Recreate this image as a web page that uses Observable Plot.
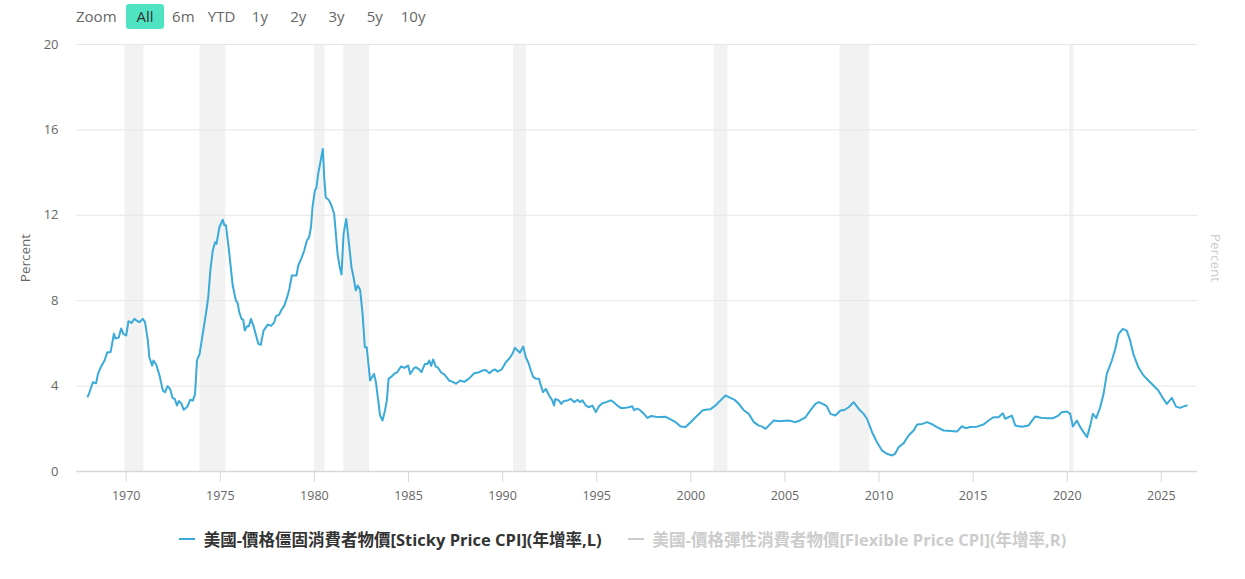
<!DOCTYPE html>
<html>
<head>
<meta charset="utf-8">
<script src="https://cdn.jsdelivr.net/npm/d3@7"></script>
<script src="https://cdn.jsdelivr.net/npm/@observablehq/plot@0.6"></script>
<style>
  html, body { margin: 0; padding: 0; background: #fff; }
  body { width: 1245px; height: 579px; position: relative; overflow: hidden;
         font-family: "Open Sans", "Noto Sans CJK TC", sans-serif; }
  #zoombar { position: relative; height: 32px; }
  #zoombar span { position: absolute; top: 4px; height: 25px; line-height: 25px;
                  font-size: 15px; color: #666; text-align: center; }
  #zoombar .zl { left: 76px; width: auto; }
  #zoombar .btn { width: 38px; border-radius: 3px; }
  #zoombar .sel { background: #50e3c2; color: #333; }
  #chart { height: 489px; }
  #legend { display: flex; justify-content: center; gap: 26px; height: 36px; align-items: center;
            font-size: 16.5px; font-weight: bold; font-family: "Open Sans", "Noto Sans CJK TC", sans-serif; }
  #legend .item { display: flex; align-items: center; }
  #legend .sym { display: inline-block; width: 16px; height: 2px; margin-right: 9px; }
</style>
</head>
<body>
<div id="zoombar"></div>
<div id="chart"></div>
<div id="legend"></div>
<script>
// ---- data ----
const years = [
1967.96,1968.05,1968.23,1968.4,1968.5,1968.67,1968.85,1969.0,1969.17,1969.35,1969.43,1969.6,1969.73,1969.85,
1970.0,1970.12,1970.28,1970.44,1970.6,1970.72,1970.88,1971.0,1971.15,1971.23,1971.38,1971.45,1971.6,1971.77,1971.95,
1972.07,1972.2,1972.33,1972.47,1972.58,1972.7,1972.8,1972.92,1973.06,1973.25,1973.4,1973.55,1973.66,1973.76,1973.9,
1974.07,1974.24,1974.36,1974.47,1974.6,1974.72,1974.8,1974.95,1975.13,1975.22,1975.3,1975.48,1975.66,1975.83,1975.92,
1976.01,1976.13,1976.22,1976.3,1976.42,1976.52,1976.63,1976.77,1976.9,1977.02,1977.15,1977.3,1977.52,1977.7,1977.87,1977.96,
1978.13,1978.23,1978.4,1978.54,1978.67,1978.8,1978.95,1979.05,1979.14,1979.3,1979.46,1979.6,1979.72,1979.82,1979.9,
1980.03,1980.1,1980.2,1980.3,1980.45,1980.52,1980.6,1980.78,1980.9,1981.05,1981.14,1981.23,1981.33,1981.44,1981.55,1981.69,1981.84,1981.97,
1982.08,1982.2,1982.3,1982.43,1982.56,1982.68,1982.78,1982.96,1983.05,1983.17,1983.27,1983.39,1983.49,1983.62,1983.75,1983.85,1983.94,
1984.1,1984.24,1984.4,1984.6,1984.78,1984.98,1985.09,1985.3,1985.4,1985.55,1985.69,1985.87,1986.0,1986.1,1986.2,1986.31,1986.45,1986.58,1986.72,1986.9,1986.99,
1987.16,1987.35,1987.52,1987.75,1987.96,1988.2,1988.49,1988.75,1988.93,1989.1,1989.3,1989.46,1989.6,1989.72,1989.95,
1990.17,1990.35,1990.52,1990.66,1990.8,1990.92,1991.1,1991.23,1991.36,1991.5,1991.63,1991.78,1991.93,
1992.06,1992.15,1992.3,1992.47,1992.64,1992.73,1992.8,1992.98,1993.12,1993.25,1993.45,1993.62,1993.8,1993.98,
1994.1,1994.24,1994.42,1994.6,1994.77,1994.95,1995.12,1995.3,1995.5,1995.74,1995.9,1996.09,1996.27,1996.5,1996.7,1996.89,1996.98,
1997.15,1997.3,1997.51,1997.69,1997.9,1998.13,1998.4,1998.66,1998.9,1999.19,1999.46,1999.72,1999.99,
2000.25,2000.45,2000.61,2000.85,2001.05,2001.31,2001.58,2001.84,2002.1,2002.33,2002.55,2002.81,2003.08,2003.35,2003.61,2003.8,2003.97,
2004.23,2004.41,2004.75,2005.12,2005.35,2005.56,2005.8,2006.09,2006.35,2006.62,2006.8,2007.06,2007.22,2007.42,2007.68,2007.95,
2008.15,2008.39,2008.65,2008.92,2009.18,2009.36,2009.63,2009.89,2010.16,2010.42,2010.69,2010.85,2011.04,2011.31,2011.57,2011.84,
2012.02,2012.3,2012.55,2012.85,2013.08,2013.43,2013.8,2014.14,2014.4,2014.6,2014.85,2015.2,2015.55,2015.82,
2016.08,2016.35,2016.58,2016.7,2017.06,2017.24,2017.6,2017.94,2018.1,2018.3,2018.6,2018.92,2019.25,2019.53,2019.71,2019.98,
2020.16,2020.3,2020.51,2020.69,2020.87,2021.05,2021.22,2021.36,2021.54,2021.75,2021.93,2022.1,2022.37,2022.55,2022.73,2022.95,
2023.16,2023.34,2023.51,2023.78,2024.05,2024.31,2024.58,2024.84,2025.11,2025.29,2025.56,2025.78,2025.99,2026.15,2026.35
];
const sticky = [
3.51,3.71,4.18,4.13,4.57,4.92,5.2,5.59,5.59,6.45,6.23,6.27,6.7,6.45,
6.37,7.04,6.96,7.15,7.04,7.0,7.15,7.0,6.14,5.35,4.96,5.2,5.0,4.5,3.79,
3.72,4.0,3.87,3.44,3.4,3.09,3.3,3.2,2.89,3.04,3.36,3.33,3.64,5.2,5.5,
6.46,7.4,8.16,9.41,10.35,10.74,10.66,11.44,11.79,11.53,11.53,10.2,8.71,8.0,7.9,
7.46,7.15,7.1,6.6,6.8,6.8,7.15,6.8,6.37,5.98,5.93,6.6,6.88,6.82,7.0,7.28,
7.35,7.54,7.77,8.13,8.55,9.18,9.18,9.18,9.65,9.96,10.35,10.82,10.98,11.45,12.38,
13.19,13.25,13.94,14.4,15.11,13.79,12.85,12.7,12.47,12.07,11.13,10.2,9.64,9.23,11.13,11.83,10.66,9.57,
9.1,8.48,8.71,8.5,7.38,5.82,5.82,4.26,4.4,4.57,4.18,3.33,2.62,2.39,2.86,3.33,4.34,
4.45,4.57,4.65,4.92,4.85,4.96,4.57,4.85,4.88,4.8,4.65,5.04,5.04,5.2,4.95,5.25,4.91,4.85,4.65,4.55,4.45,
4.26,4.2,4.11,4.26,4.2,4.34,4.6,4.65,4.73,4.75,4.6,4.73,4.78,4.68,4.78,
5.12,5.28,5.51,5.79,5.67,5.56,5.85,5.35,5.12,4.73,4.42,4.34,4.34,
3.95,3.72,3.87,3.56,3.33,3.09,3.4,3.33,3.17,3.3,3.33,3.4,3.25,3.36,
3.25,3.33,3.09,3.01,3.09,2.78,3.06,3.2,3.25,3.33,3.25,3.09,2.98,2.98,3.01,3.06,2.87,
2.95,2.87,2.7,2.51,2.6,2.56,2.55,2.56,2.45,2.31,2.11,2.08,2.31,
2.54,2.7,2.86,2.9,2.92,3.09,3.33,3.56,3.45,3.35,3.17,2.87,2.7,2.31,2.15,2.1,2.0,
2.23,2.39,2.35,2.39,2.36,2.31,2.39,2.54,2.86,3.17,3.25,3.14,3.06,2.7,2.62,2.86,
2.88,3.01,3.25,2.93,2.7,2.47,1.84,1.37,0.98,0.83,0.75,0.83,1.14,1.33,1.69,1.92,
2.2,2.23,2.31,2.2,2.08,1.92,1.9,1.87,2.12,2.03,2.08,2.1,2.2,2.39,
2.54,2.54,2.73,2.47,2.62,2.15,2.1,2.15,2.35,2.58,2.52,2.5,2.5,2.62,2.78,2.81,
2.7,2.11,2.39,2.08,1.84,1.61,2.15,2.7,2.5,3.01,3.64,4.57,5.2,5.74,6.45,6.68,
6.6,6.14,5.51,4.88,4.5,4.26,4.03,3.79,3.4,3.17,3.45,3.04,2.98,3.04,3.09
];
const recessionStart = [1969.93, 1973.92, 1980.0, 1981.56, 1990.58, 2001.23, 2007.92, 2020.12];
const recessionEnd   = [1970.94, 1975.30, 1980.57, 1982.93, 1991.27, 2001.97, 2009.51, 2020.35];
const yTicks = [0, 4, 8, 12, 16, 20];
const xTicks = [1970, 1975, 1980, 1985, 1990, 1995, 2000, 2005, 2010, 2015, 2020, 2025];
const zoomButtons = ["All", "6m", "YTD", "1y", "2y", "3y", "5y", "10y"];
const seriesNames = ["美國-價格僵固消費者物價[Sticky Price CPI](年增率,L)", "美國-價格彈性消費者物價[Flexible Price CPI](年增率,R)"];
const seriesColors = ["#3aaad9", "#cccccc"];
const axisTitle = "Percent";

// ---- zoom bar ----
const zb = document.getElementById("zoombar");
const zl = document.createElement("span"); zl.className = "zl"; zl.textContent = "Zoom"; zb.appendChild(zl);
zoomButtons.forEach((b, i) => {
  const s = document.createElement("span");
  s.className = "btn" + (i === 0 ? " sel" : "");
  s.style.left = (126 + i * 38.3) + "px";
  s.textContent = b;
  zb.appendChild(s);
});

// ---- chart ----
const data = years.map((y, i) => ({year: y, value: sticky[i]}));
const rec = recessionStart.map((s, i) => ({x1: s, x2: recessionEnd[i]}));

const plot = Plot.plot({
  width: 1245,
  height: 489,
  marginTop: 12,
  marginBottom: 50,
  marginLeft: 76,
  marginRight: 48,
  style: {fontFamily: "'Open Sans','Noto Sans CJK TC',sans-serif", fontSize: "12.5px", color: "#666", background: "#fff"},
  x: {domain: [1967.36, 2026.92]},
  y: {domain: [0, 20]},
  marks: [
    Plot.rectY(rec, {x1: "x1", x2: "x2", y1: 0, y2: 20, fill: "#f2f2f2"}),
    Plot.ruleY(yTicks.filter(d => d > 0), {stroke: "#e6e6e6", strokeWidth: 1}),
    Plot.ruleY([0], {stroke: "#d8d8d8", strokeWidth: 1.5}),
    Plot.axisY({ticks: yTicks, tickSize: 0, tickPadding: 18, label: null, fill: "#666", fontSize: 13}),
    Plot.axisX({ticks: xTicks, tickFormat: d => String(d), tickSize: 11, tickPadding: 9, stroke: "#d8d8d8", fill: "#666", label: null}),
    Plot.line(data, {x: "year", y: "value", stroke: seriesColors[0], strokeWidth: 2, curve: "linear"}),
    Plot.text([axisTitle], {frameAnchor: "left", dx: -51, rotate: -90, textAnchor: "middle", fill: "#666", fontSize: 13.5}),
    Plot.text([axisTitle], {frameAnchor: "right", dx: 18, rotate: 90, textAnchor: "middle", fill: "#cccccc", fontSize: 13.5})
  ]
});
document.getElementById("chart").appendChild(plot);

// ---- legend ----
const lg = document.getElementById("legend");
seriesNames.forEach((n, i) => {
  const it = document.createElement("div"); it.className = "item";
  const sym = document.createElement("span"); sym.className = "sym"; sym.style.background = seriesColors[i];
  const tx = document.createElement("span"); tx.textContent = n; tx.style.color = i === 0 ? "#333" : "#cccccc";
  it.appendChild(sym); it.appendChild(tx); lg.appendChild(it);
});
</script>
</body>
</html>
